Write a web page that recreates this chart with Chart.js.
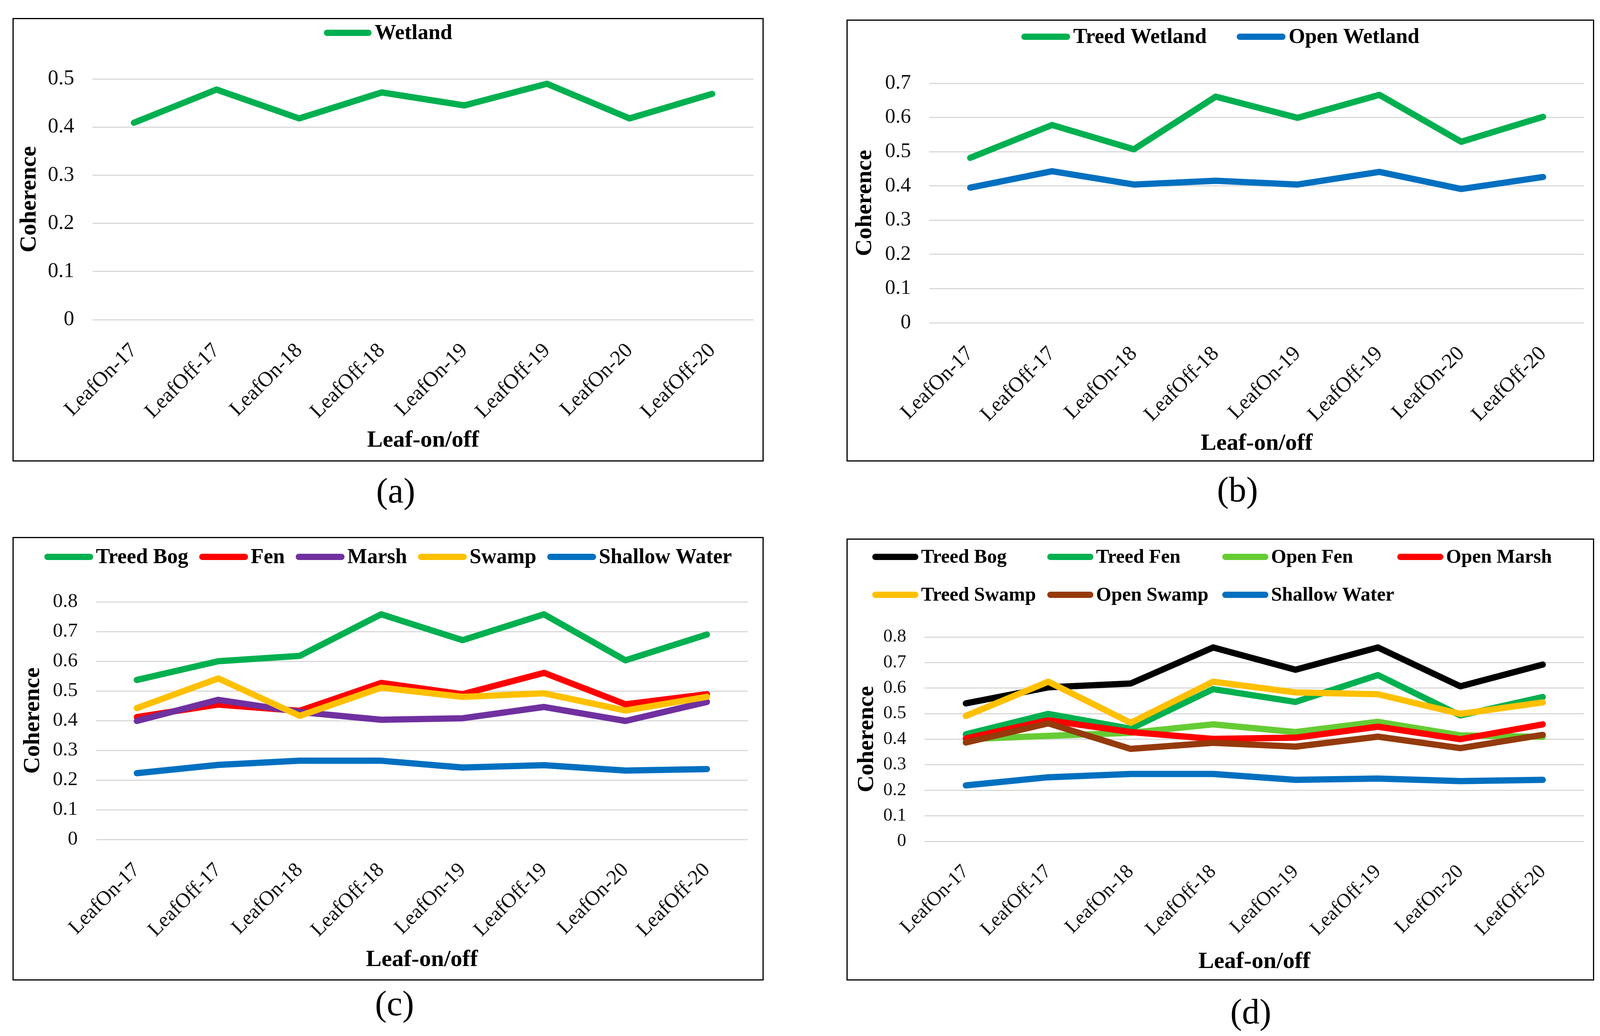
<!DOCTYPE html>
<html>
<head>
<meta charset="utf-8">
<script src="https://cdn.jsdelivr.net/npm/chart.js@4"></script>
<style>
  html, body { margin: 0; padding: 0; background: #fff; }
  body { position: relative; width: 4110px; height: 2651px; overflow: hidden; }
  .panel { position: absolute; border: 3px solid #000; box-sizing: border-box; background: #fff; }
  .panel canvas { position: absolute; left: 0; top: 0; }
  .cap { position: absolute; font-family: "Liberation Serif", "Times New Roman", serif; font-size: 90px;
         line-height: 90px; transform: translate(-50%, -50%); color: #000; }
</style>
</head>
<body>

<div class="panel" id="pa"><canvas id="ca"></canvas></div>
<div class="panel" id="pb"><canvas id="cb"></canvas></div>
<div class="panel" id="pc"><canvas id="cc"></canvas></div>
<div class="panel" id="pd"><canvas id="cd"></canvas></div>

<div class="cap" style="left:1013px;top:1256px">(a)</div>
<div class="cap" style="left:3168px;top:1253px">(b)</div>
<div class="cap" style="left:1010px;top:2568px">(c)</div>
<div class="cap" style="left:3202px;top:2589px">(d)</div>

<script>
// categories (x axis)
var categories = ['LeafOn-17', 'LeafOff-17', 'LeafOn-18', 'LeafOff-18', 'LeafOn-19', 'LeafOff-19', 'LeafOn-20', 'LeafOff-20'];

// (a)
var wetland = [0.409, 0.478, 0.418, 0.472, 0.445, 0.490, 0.418, 0.469];

// (b)
var treedWetland = [0.482, 0.578, 0.507, 0.661, 0.599, 0.666, 0.529, 0.602];
var openWetland  = [0.395, 0.443, 0.404, 0.415, 0.404, 0.441, 0.391, 0.426];

// (c)
var cTreedBog = [0.537, 0.600, 0.618, 0.758, 0.671, 0.758, 0.603, 0.690];
var cFen      = [0.412, 0.454, 0.433, 0.527, 0.489, 0.561, 0.455, 0.489];
var cMarsh    = [0.399, 0.470, 0.429, 0.403, 0.408, 0.446, 0.399, 0.463];
var cSwamp    = [0.442, 0.542, 0.416, 0.511, 0.480, 0.492, 0.434, 0.480];
var cShallow  = [0.223, 0.251, 0.265, 0.265, 0.242, 0.250, 0.232, 0.237];

// (d)
var dTreedBog   = [0.540, 0.603, 0.618, 0.759, 0.672, 0.759, 0.607, 0.692];
var dTreedFen   = [0.419, 0.499, 0.441, 0.596, 0.546, 0.651, 0.493, 0.565];
var dOpenFen    = [0.400, 0.413, 0.425, 0.458, 0.428, 0.468, 0.415, 0.409];
var dOpenMarsh  = [0.403, 0.474, 0.428, 0.401, 0.406, 0.449, 0.400, 0.458];
var dTreedSwamp = [0.491, 0.625, 0.464, 0.625, 0.583, 0.576, 0.499, 0.544];
var dOpenSwamp  = [0.387, 0.462, 0.362, 0.386, 0.371, 0.410, 0.365, 0.417];
var dShallow    = [0.219, 0.251, 0.264, 0.264, 0.241, 0.246, 0.236, 0.241];

// y axis maxima (tick step 0.1 everywhere)
var yMax = { a: 0.5, b: 0.7, c: 0.8, d: 0.8 };

var colors = {
    green: '#00b050', blue: '#0070c0', red: '#ff0000', purple: '#7030a0',
    yellow: '#ffc000', black: '#000000', lightGreen: '#66cc33', brown: '#953a0c'
};

var FONT = '"Liberation Serif", "Times New Roman", serif';

/**
 * legend drawn as rounded line swatches + bold text
 * opts: y, size, swatch, textGap, gap (centered rows) or colWidth/startX (grid), perRow, rowGap
 */
var lineLegend = {
    id: 'lineLegend',
    afterDraw: function(chart, args, opts) {
        var ctx = chart.ctx;
        var sets = chart.data.datasets;
        var perRow = opts.perRow || sets.length;
        ctx.save();
        ctx.font = 'bold ' + opts.size + 'px ' + FONT;
        ctx.textBaseline = 'middle';
        ctx.textAlign = 'left';
        for(var r = 0; r * perRow < sets.length; r++) {
            var row = sets.slice(r * perRow, (r + 1) * perRow);
            var y = opts.y + r * (opts.rowGap || 0);
            var widths = row.map(function(d) {
                return opts.swatch + opts.textGap + ctx.measureText(d.label).width;
            });
            var x;
            if(opts.colWidth) {
                x = opts.startX;
            }
            else {
                var total = widths.reduce(function(s, w) { return s + w; }, 0) + opts.gap * (row.length - 1);
                x = (chart.width - total) / 2;
            }
            for(var i = 0; i < row.length; i++) {
                var d = row[i];
                var lw = d.borderWidth;
                ctx.beginPath();
                ctx.lineWidth = lw;
                ctx.lineCap = 'round';
                ctx.strokeStyle = d.borderColor;
                ctx.moveTo(x + lw / 2, y);
                ctx.lineTo(x + opts.swatch - lw / 2, y);
                ctx.stroke();
                ctx.fillStyle = '#000';
                ctx.fillText(d.label, x + opts.swatch + opts.textGap, y + 2);
                x += opts.colWidth ? opts.colWidth : widths[i] + opts.gap;
            }
        }
        ctx.restore();
    }
};

/**
 * one panel
 * box: [left, top, width, height] of the bordered frame
 * plot: [left, top, rightPad, bottom] of the plot area inside the frame
 * fonts: [y tick size, x tick size]
 */
function makePanel(key, series, box, plot, yTitlePad, xTitlePad, fonts, legend) {
    var el = document.getElementById('p' + key);
    el.style.left = box[0] + 'px';
    el.style.top = box[1] + 'px';
    el.style.width = box[2] + 'px';
    el.style.height = box[3] + 'px';

    var w = box[2] - 6, h = box[3] - 6;
    var canvas = document.getElementById('c' + key);
    canvas.width = w;
    canvas.height = h;
    canvas.style.width = w + 'px';
    canvas.style.height = h + 'px';

    var n = series.length;
    var datasets = series.map(function(s, i) {
        return {
            label: s.label,
            data: s.data,
            borderColor: s.color,
            backgroundColor: s.color,
            borderWidth: 16,
            borderCapStyle: 'round',
            borderJoinStyle: 'round',
            pointRadius: 0,
            tension: 0,
            order: n - i // later series on top, like Excel
        };
    });

    return new Chart(canvas, {
        type: 'line',
        data: { labels: categories, datasets: datasets },
        options: {
            responsive: false,
            animation: false,
            devicePixelRatio: 1,
            layout: { padding: { top: plot[1], right: plot[2], bottom: 0, left: 0 } },
            plugins: {
                legend: { display: false },
                tooltip: { enabled: false },
                lineLegend: legend
            },
            scales: {
                x: {
                    offset: true,
                    grid: { display: false },
                    border: { display: false },
                    ticks: {
                        autoSkip: false, minRotation: 45, maxRotation: 45, padding: 40,
                        color: '#111', font: { family: FONT, size: fonts[1] }
                    },
                    title: {
                        display: true, text: 'Leaf-on/off', color: '#000',
                        font: { family: FONT, size: 60, weight: 'bold', lineHeight: 1 },
                        padding: { top: 0, bottom: xTitlePad }
                    },
                    afterFit: function(s) { s.height = h - plot[3]; }
                },
                y: {
                    min: 0,
                    max: yMax[key],
                    grid: { color: '#d9d9d9', lineWidth: 3, drawTicks: false },
                    border: { display: false },
                    ticks: {
                        stepSize: 0.1, autoSkip: false, maxTicksLimit: 20, padding: 47, color: '#111',
                        font: { family: FONT, size: fonts[0], lineHeight: 1 },
                        callback: function(v) { return String(+v.toFixed(1)); }
                    },
                    title: {
                        display: true, text: 'Coherence', color: '#000',
                        font: { family: FONT, size: 60, weight: 'bold', lineHeight: 1 },
                        padding: { top: yTitlePad, bottom: 0 }
                    },
                    afterFit: function(s) { s.width = plot[0]; }
                }
            }
        },
        plugins: [lineLegend]
    });
}

makePanel('a',
    [{ label: 'Wetland', data: wetland, color: colors.green }],
    [32, 46, 1923, 1135], [202, 153, 23, 769], 10, 21, [54, 54],
    { y: 35, size: 55, swatch: 122, textGap: 8, gap: 0 });

makePanel('b',
    [{ label: 'Treed Wetland', data: treedWetland, color: colors.green },
     { label: 'Open Wetland', data: openWetland, color: colors.blue }],
    [2167, 50, 1914, 1131], [209, 160, 23, 773], 14, 13, [53, 54],
    { y: 41, size: 54, swatch: 125, textGap: 8, gap: 77 });

makePanel('c',
    [{ label: 'Treed Bog', data: cTreedBog, color: colors.green },
     { label: 'Fen', data: cFen, color: colors.red },
     { label: 'Marsh', data: cMarsh, color: colors.purple },
     { label: 'Swamp', data: cSwamp, color: colors.yellow },
     { label: 'Shallow Water', data: cShallow, color: colors.blue }],
    [32, 1374, 1923, 1135], [211, 163, 38, 771], 19, 20, [51, 53],
    { y: 48, size: 54, swatch: 125, textGap: 7, gap: 28 });

makePanel('d',
    [{ label: 'Treed Bog', data: dTreedBog, color: colors.black },
     { label: 'Treed Fen', data: dTreedFen, color: colors.green },
     { label: 'Open Fen', data: dOpenFen, color: colors.lightGreen },
     { label: 'Open Marsh', data: dOpenMarsh, color: colors.red },
     { label: 'Treed Swamp', data: dTreedSwamp, color: colors.yellow },
     { label: 'Open Swamp', data: dOpenSwamp, color: colors.brown },
     { label: 'Shallow Water', data: dShallow, color: colors.blue }],
    [2167, 1378, 1914, 1131], [197, 249, 23, 772], 19, 15, [47, 51],
    { y: 44, rowGap: 97, size: 50, swatch: 118, textGap: 7, colWidth: 448, startX: 63, perRow: 4 });
</script>
</body>
</html>
